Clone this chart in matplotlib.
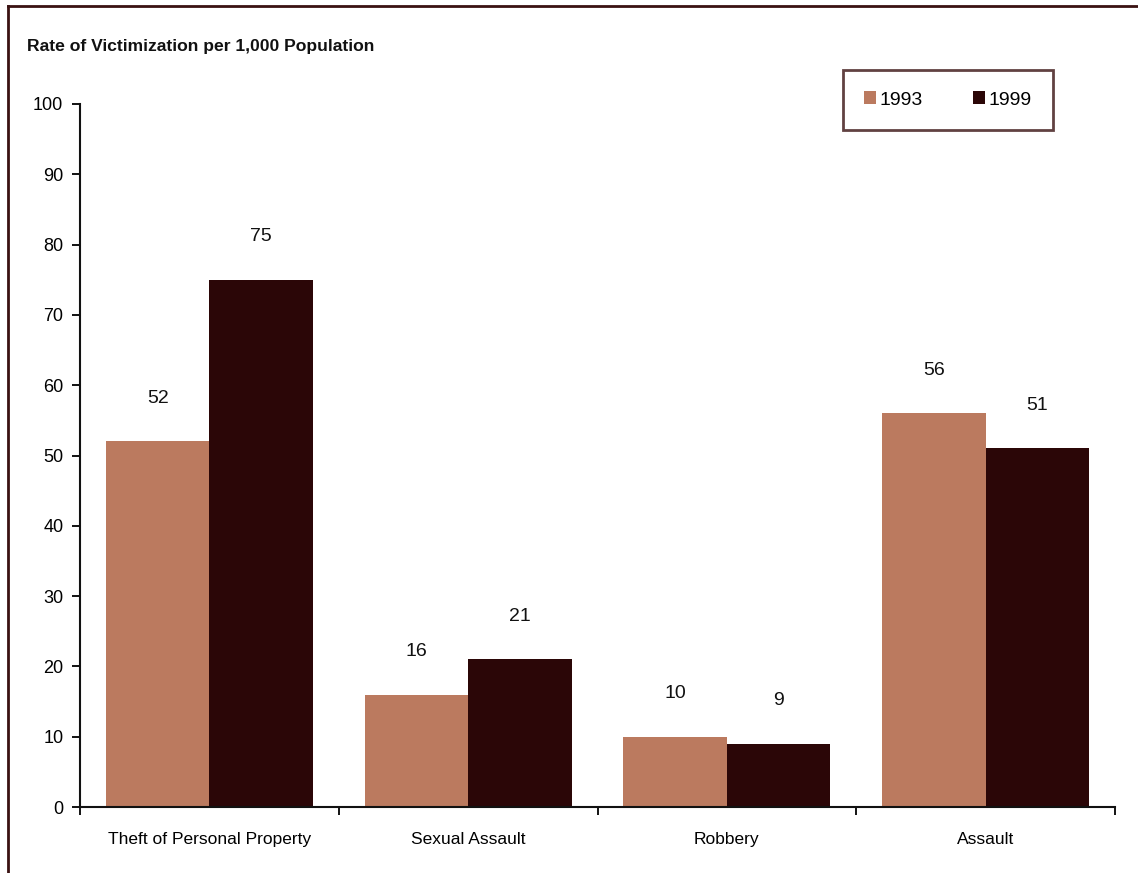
import numpy as np
import matplotlib.pyplot as plt
from matplotlib.lines import Line2D
from matplotlib.patches import Patch

plt.rcParams['font.family'] = ['Liberation Sans', 'DejaVu Sans']

# --- Data
categories = ['Theft of Personal Property', 'Sexual Assault', 'Robbery', 'Assault']
rates_1993 = [52, 16, 10, 56]
rates_1999 = [75, 21, 9, 51]
years = ['1993', '1999']
y_ticks = [0, 10, 20, 30, 40, 50, 60, 70, 80, 90, 100]
# ---

COL_1993 = '#bb7a5f'
COL_1999 = '#2b0607'
FRAME_COL = '#3a1212'
W, H = 1138, 873

fig = plt.figure(figsize=(W / 100, H / 100), dpi=100)
ax = fig.add_axes([80 / W, 1 - 807 / H, (1115 - 80) / W, (807 - 104) / H])

x = np.arange(len(categories))
bw = 0.4
b1 = ax.bar(x - bw / 2, rates_1993, bw, color=COL_1993, label=years[0])
b2 = ax.bar(x + bw / 2, rates_1999, bw, color=COL_1999, label=years[1])

# value labels above the bars
for bars, vals in ((b1, rates_1993), (b2, rates_1999)):
    for rect, v in zip(bars, vals):
        ax.annotate(str(v), (rect.get_x() + rect.get_width() / 2, v),
                    xytext=(0, 25), textcoords='offset points',
                    ha='center', va='bottom', fontsize=14, color='#111111')

ax.set_xlim(-0.5, len(categories) - 0.5)
ax.set_ylim(0, 100)
ax.set_yticks(y_ticks)
ax.tick_params(axis='y', direction='out', length=6, width=1.3, pad=6, labelsize=13)

# ticks at the group boundaries, labels centred under each group
ax.set_xticks(np.arange(len(categories) + 1) - 0.5)
ax.set_xticklabels([])
ax.tick_params(axis='x', which='major', direction='out', length=6, width=1.3)
ax.set_xticks(x, minor=True)
ax.set_xticklabels(categories, minor=True, fontsize=12.5)
ax.tick_params(axis='x', which='minor', length=0, pad=18)

for s in ('top', 'right'):
    ax.spines[s].set_visible(False)
for s in ('left', 'bottom'):
    ax.spines[s].set_linewidth(1.5)
    ax.spines[s].set_color('#111111')

fig.text(27 / W, 1 - 46 / H, 'Rate of Victimization per 1,000 Population',
         ha='left', va='center', fontsize=12.6, fontweight='bold', color='#111111')

handles = [Patch(facecolor=COL_1993), Patch(facecolor=COL_1999)]
leg = fig.legend(handles, years, loc='center', ncol=2,
                 bbox_to_anchor=(948 / W, 1 - 100 / H), bbox_transform=fig.transFigure,
                 fontsize=14, frameon=True, fancybox=False, borderpad=1.1,
                 handlelength=0.6, handleheight=0.6, handletextpad=0.2,
                 columnspacing=2.6)
leg.get_frame().set_edgecolor(FRAME_COL)
leg.get_frame().set_linewidth(2)

# outer frame (top and left edges)
fig.add_artist(Line2D([8 / W, 1], [1 - 6 / H, 1 - 6 / H], transform=fig.transFigure,
                      color=FRAME_COL, lw=2))
fig.add_artist(Line2D([8 / W, 8 / W], [0, 1 - 6 / H], transform=fig.transFigure,
                      color=FRAME_COL, lw=2))

fig.savefig('out.png', dpi=100)
